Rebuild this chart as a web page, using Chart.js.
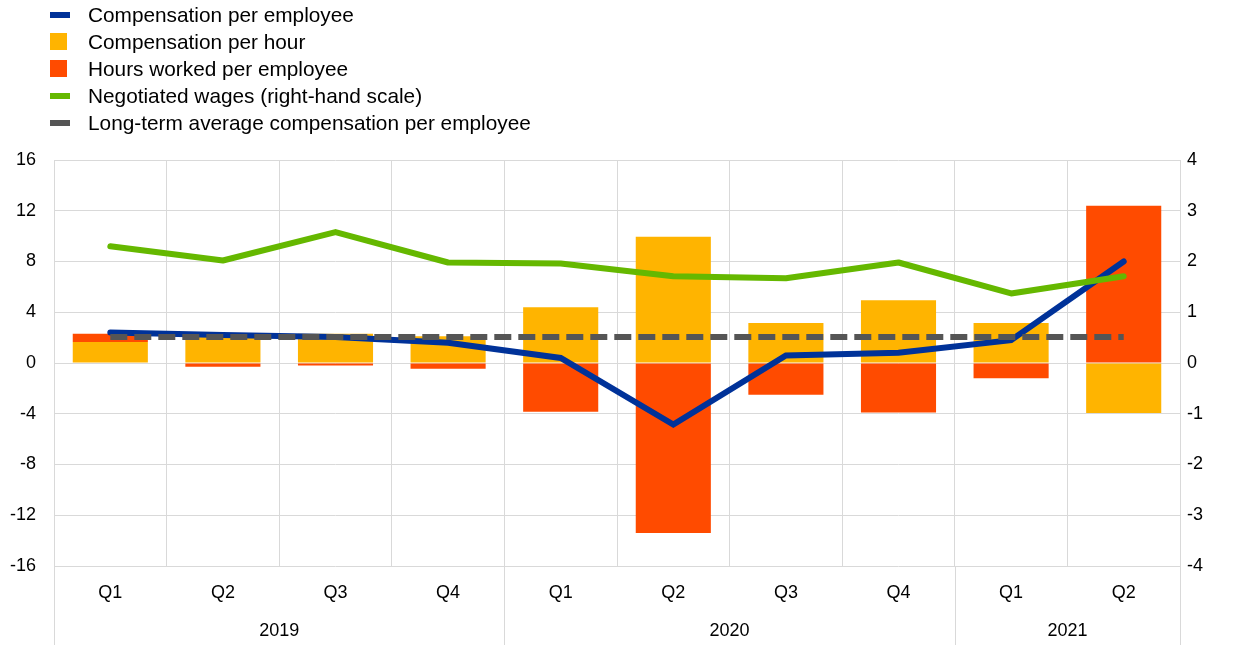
<!DOCTYPE html>
<html>
<head>
<meta charset="utf-8">
<script src="https://cdn.jsdelivr.net/npm/chart.js@4.4.1/dist/chart.umd.min.js"></script>
<style>
  html, body { margin: 0; padding: 0; background: #fff; }
  #wrap { position: relative; width: 1240px; height: 658px; }
  canvas { position: absolute; left: 0; top: 0; }
  #legend { position: absolute; left: 50px; top: 1px; font-family: "Liberation Sans", Arial, sans-serif; font-size: 20.8px; color: #000; }
  .item { position: relative; height: 27px; line-height: 27px; padding-left: 38px; white-space: nowrap; }
  .mk { position: absolute; left: 0; }
  .line { top: 11px; width: 20px; height: 6px; }
  .sq { top: 5px; width: 17px; height: 17px; }
</style>
</head>
<body>
<div id="wrap">
  <canvas id="c" width="1240" height="658"></canvas>
  <div id="legend"></div>
</div>
<script>
const categories = ['Q1','Q2','Q3','Q4','Q1','Q2','Q3','Q4','Q1','Q2'];
const yearLabels = ['2019','2020','2021'];
const yearSpans = [4, 4, 2];
const compPerEmployee = [2.4, 2.2, 2.05, 1.6, 0.4, -4.85, 0.6, 0.8, 1.8, 8.0];
const compPerHour = [1.65, 2.35, 2.3, 2.1, 4.4, 9.95, 3.15, 4.95, 3.15, -3.95];
const hoursWorked = [0.65, -0.3, -0.2, -0.45, -3.85, -13.4, -2.5, -3.9, -1.2, 12.4];
const negotiatedWages = [2.3, 2.02, 2.58, 1.98, 1.96, 1.71, 1.67, 1.98, 1.37, 1.71];
const longTermAvg = [2.05, 2.05, 2.05, 2.05, 2.05, 2.05, 2.05, 2.05, 2.05, 2.05];
const leftTicks = { min: -16, max: 16, step: 4 };
const rightTicks = { min: -4, max: 4, step: 1 };

const COLORS = { blue: '#003299', yellow: '#FFB400', red: '#FF4B00', green: '#65B800', gray: '#555555' };
const FONT = "'Liberation Sans', Arial, sans-serif";
const GRID = '#d9d9d9';

const legendItems = [
  { label: 'Compensation per employee', color: COLORS.blue, type: 'line' },
  { label: 'Compensation per hour', color: COLORS.yellow, type: 'sq' },
  { label: 'Hours worked per employee', color: COLORS.red, type: 'sq' },
  { label: 'Negotiated wages (right-hand scale)', color: COLORS.green, type: 'line' },
  { label: 'Long-term average compensation per employee', color: COLORS.gray, type: 'line' }
];
const lg = document.getElementById('legend');
legendItems.forEach(it => {
  const d = document.createElement('div'); d.className = 'item';
  const m = document.createElement('span'); m.className = 'mk ' + it.type; m.style.background = it.color;
  d.appendChild(m); d.appendChild(document.createTextNode(it.label)); lg.appendChild(d);
});

const yearPlugin = {
  id: 'years',
  afterDraw(chart) {
    const ctx = chart.ctx, x = chart.scales.x, area = chart.chartArea;
    ctx.save();
    ctx.strokeStyle = GRID; ctx.lineWidth = 1;
    ctx.fillStyle = '#000'; ctx.font = '18px ' + FONT;
    ctx.textAlign = 'center'; ctx.textBaseline = 'middle';
    let start = 0;
    const seps = [area.left];
    yearSpans.forEach((n, i) => {
      const end = start + n - 1;
      const cx = (x.getPixelForValue(start) + x.getPixelForValue(end)) / 2;
      ctx.fillText(yearLabels[i], cx, 631);
      if (end < categories.length - 1) seps.push((x.getPixelForValue(end) + x.getPixelForValue(end + 1)) / 2);
      start = end + 1;
    });
    seps.push(area.right);
    seps.forEach(px => {
      const p = Math.round(px) + 0.5;
      ctx.beginPath(); ctx.moveTo(p, area.bottom); ctx.lineTo(p, 645); ctx.stroke();
    });
    ctx.restore();
  }
};

new Chart(document.getElementById('c'), {
  data: {
    labels: categories,
    datasets: [
      { type: 'line', label: 'Long-term average compensation per employee', data: longTermAvg, yAxisID: 'y', stack: 'l3', order: 0,
        borderColor: COLORS.gray, borderWidth: 6, borderDash: [17, 7], pointRadius: 0, fill: false },
      { type: 'line', label: 'Negotiated wages (right-hand scale)', data: negotiatedWages, yAxisID: 'y2', stack: 'l2', order: 1,
        borderColor: COLORS.green, borderWidth: 6, borderCapStyle: 'round', borderJoinStyle: 'round', pointRadius: 0, fill: false },
      { type: 'line', label: 'Compensation per employee', data: compPerEmployee, yAxisID: 'y', stack: 'l1', order: 2,
        borderColor: COLORS.blue, borderWidth: 6, borderCapStyle: 'round', borderJoinStyle: 'miter', pointRadius: 0, fill: false },
      { type: 'bar', label: 'Compensation per hour', data: compPerHour, yAxisID: 'y', stack: 'bars', order: 3,
        backgroundColor: COLORS.yellow, borderWidth: 0, categoryPercentage: 1, barPercentage: 0.667 },
      { type: 'bar', label: 'Hours worked per employee', data: hoursWorked, yAxisID: 'y', stack: 'bars', order: 4,
        backgroundColor: COLORS.red, borderWidth: 0, categoryPercentage: 1, barPercentage: 0.667 }
    ]
  },
  options: {
    responsive: false, animation: false,
    layout: { padding: { top: 160, left: 0, right: 0, bottom: 0 } },
    plugins: { legend: { display: false }, tooltip: { enabled: false } },
    scales: {
      x: {
        stacked: true, offset: true,
        grid: { display: true, offset: true, color: GRID, lineWidth: 1, drawTicks: false },
        border: { display: false },
        ticks: { color: '#000', font: { family: FONT, size: 18 }, padding: 16, maxRotation: 0 },
        afterFit(s) { s.height = 92; }
      },
      y: {
        position: 'left', stacked: true, min: leftTicks.min, max: leftTicks.max,
        grid: { color: GRID, lineWidth: 1, drawTicks: false },
        border: { display: false },
        ticks: { stepSize: leftTicks.step, color: '#000', font: { family: FONT, size: 18 }, padding: 18 },
        afterFit(s) { s.width = 54; }
      },
      y2: {
        position: 'right', min: rightTicks.min, max: rightTicks.max,
        grid: { display: false, drawTicks: false },
        border: { display: false },
        ticks: { stepSize: rightTicks.step, color: '#000', font: { family: FONT, size: 18 }, padding: 7 },
        afterFit(s) { s.width = 60; }
      }
    }
  },
  plugins: [yearPlugin]
});
</script>
</body>
</html>
